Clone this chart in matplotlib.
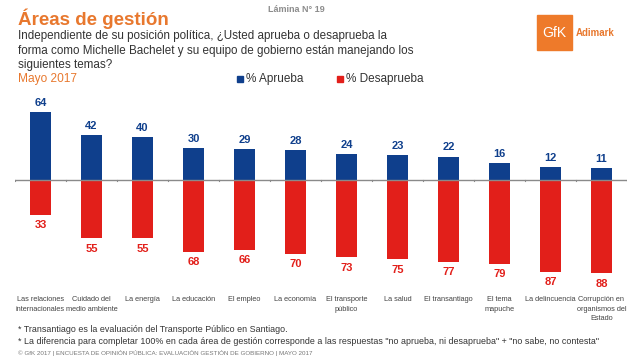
import matplotlib.pyplot as plt
import matplotlib.patches as mpatches

plt.rcParams['font.family'] = ['Liberation Sans', 'DejaVu Sans']

categorias = ["Las relaciones\ninternacionales", "Cuidado del\nmedio ambiente", "La energía",
              "La educación", "El empleo", "La economía", "El transporte\npúblico", "La salud",
              "El transantiago", "El tema\nmapuche", "La delincuencia",
              "Corrupción en\norganismos del\nEstado"]
aprueba = [64, 42, 40, 30, 29, 28, 24, 23, 22, 16, 12, 11]
desaprueba = [33, 55, 55, 68, 66, 70, 73, 75, 77, 79, 87, 88]

azul = '#0F3F8C'
rojo = '#E21F1A'
naranja = '#E8782E'

fig = plt.figure(figsize=(6.4, 3.6), dpi=100)
ax = fig.add_axes([15 / 640, 1 - 292 / 360, 612 / 640, 197 / 360])

x = list(range(len(categorias)))
ax.bar(x, aprueba, width=0.41, color=azul)
ax.bar(x, [-d for d in desaprueba], width=0.41, color=rojo)
ax.axhline(0, color='#8a8a8a', lw=1)
for i in range(len(categorias) + 1):
    ax.plot([i - 0.5, i - 0.5], [0, -1.5], color='#8a8a8a', lw=0.8)

# etiquetas de valores
for i in x:
    ax.text(i, aprueba[i] + 4, str(aprueba[i]), ha='center', va='bottom',
            color=azul, fontsize=8, fontweight='bold')
    ax.text(i, -desaprueba[i] - 5, str(desaprueba[i]), ha='center', va='top',
            color=rojo, fontsize=8, fontweight='bold')

ax.set_xlim(-0.5, len(categorias) - 0.5)
ax.set_ylim(-105.7, 80)
ax.set_xticks(x)
ax.set_xticklabels(categorias, fontsize=5.3, color='#444444', linespacing=1.5)
ax.tick_params(axis='x', length=0, pad=3)
ax.set_yticks([])
for s in ax.spines.values():
    s.set_visible(False)

# encabezado
fig.text(296 / 640, 1 - 9 / 360, "Lámina N° 19", ha='center', va='center',
         fontsize=6.5, fontweight='bold', color='#8c8c8c')
fig.text(18 / 640, 1 - 19 / 360, "Áreas de gestión", ha='left', va='center',
         fontsize=13.5, fontweight='bold', color=naranja)
fig.text(18 / 640, 1 - 30 / 360,
         "Independiente de su posición política, ¿Usted aprueba o desaprueba la\n"
         "forma como Michelle Bachelet y su equipo de gobierno están manejando los\n"
         "siguientes temas?", ha='left', va='top', fontsize=8.4, color='#333333',
         linespacing=1.28)
fig.text(18 / 640, 1 - 79 / 360, "Mayo 2017", ha='left', va='center',
         fontsize=8.6, color=naranja)

# leyenda
fig.patches.append(mpatches.Rectangle((237 / 640, 1 - 82 / 360), 6 / 640, 6 / 360,
                                      transform=fig.transFigure, color=azul))
fig.text(246 / 640, 1 - 79 / 360, "% Aprueba", ha='left', va='center', fontsize=8.5, color='#333333')
fig.patches.append(mpatches.Rectangle((337 / 640, 1 - 82 / 360), 6 / 640, 6 / 360,
                                      transform=fig.transFigure, color=rojo))
fig.text(346 / 640, 1 - 79 / 360, "% Desaprueba", ha='left', va='center', fontsize=8.5, color='#333333')

# logo
fig.patches.append(mpatches.Rectangle((537 / 640, 1 - 50 / 360), 35 / 640, 35 / 360,
                                      transform=fig.transFigure, color='#EE7A2A'))
fig.text(554.5 / 640, 1 - 33 / 360, "GfK", ha='center', va='center', fontsize=10,
         color='white')
fig.text(576 / 640, 1 - 33 / 360, "Adimark", ha='left', va='center', fontsize=7,
         fontweight='bold', color='#E8782E')

# notas
fig.text(18 / 640, 1 - 329 / 360, "* Transantiago es la evaluación del Transporte Público en Santiago.",
         ha='left', va='center', fontsize=6.4, color='#333333')
fig.text(18 / 640, 1 - 341 / 360,
         "* La diferencia para completar 100% en cada área de gestión corresponde a las respuestas "
         "\"no aprueba, ni desaprueba\" + \"no sabe, no contesta\"",
         ha='left', va='center', fontsize=6.4, color='#333333')
fig.text(18 / 640, 1 - 353 / 360,
         "© GfK 2017 | ENCUESTA DE OPINIÓN PÚBLICA: EVALUACIÓN GESTIÓN DE GOBIERNO | MAYO 2017",
         ha='left', va='center', fontsize=4.5, color='#777777')

fig.savefig('out.png', dpi=100)
